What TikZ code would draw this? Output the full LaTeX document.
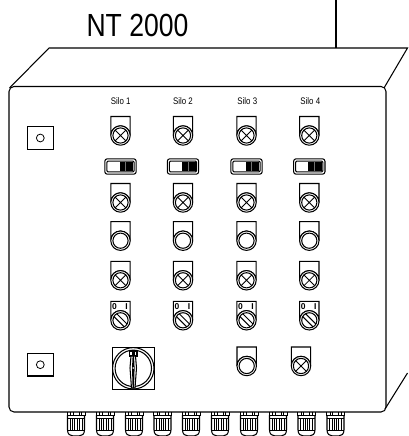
\documentclass[tikz,border=0pt]{standalone}
\usepackage{fontspec}
\setmainfont{Liberation Sans}
\newfontfamily\narrowfont[FakeStretch=0.83]{Liberation Sans}
\newcommand{\tabpath}{(-9.7,0) -- (-9.7,-19) -- (9.7,-19) -- (9.7,0) arc[start angle=0,end angle=-180,radius=9.7]}
\tikzset{
  x=1pt,y=-1pt,
  line/.style={draw=black,line width=1.05pt},
  thinline/.style={draw=black,line width=0.8pt},
  silolabel/.style={font=\narrowfont\fontsize{9.5}{10}\selectfont,inner sep=0pt,text=black},
  marklabel/.style={font=\fontsize{8.5}{8.5}\selectfont\bfseries,inner sep=0pt},
  lampcross/.pic={
    \draw[line] \tabpath;
    \draw[line,fill=white] (0,0) circle[radius=9.7];
    \draw[line] (0,0) circle[radius=7.6];
    \draw[thinline] (-5.4,-5.4) -- (5.4,5.4) (-5.4,5.4) -- (5.4,-5.4);
  },
  lampplain/.pic={
    \draw[line] \tabpath;
    \draw[line,fill=white] (0,0) circle[radius=9.7];
    \draw[line] (0,0) circle[radius=7.6];
  },
  knob/.pic={
    \draw[line] \tabpath;
    \draw[line,fill=white] (0,0) circle[radius=9.7];
    \draw[line] (0,0) circle[radius=7.6];
    \draw[line] (-6.6,-3.8) -- (3.8,6.6) (-3.8,-6.6) -- (6.6,3.8);
    \node[marklabel] (m0) at (-6,-13.5) {0};
    \node[marklabel] (m1) at (6,-13.5) {I};
  },
  toggle/.pic={
    \draw[line,rounded corners=2.5pt] (-15.7,-7.7) rectangle (15.7,7.7);
    \draw[line,rounded corners=1pt] (-13.6,-5.3) -- (13.6,-5.3) -- (13.6,5.3) -- (-13.6,5.3) -- cycle;
    \fill[black] (-1,-4.5) rectangle (12.5,4.5);
    \fill[black!55] (4.7,-4.5) rectangle (5.5,4.5);
  },
  gland/.pic={
    \draw[thinline] (-9,0) -- (-9,3) -- (9,3) -- (9,0);
    \draw[thinline] (-5.5,0) -- (-5.5,3) (5.5,0) -- (5.5,3) (-3,0) -- (-3,3) (3,0) -- (3,3);
    \draw[line] (-8.5,3) -- (-8.5,18) .. controls (-8.5,22) and (-6,24) .. (-3,24) -- (3,24) .. controls (6,24) and (8.5,22) .. (8.5,18) -- (8.5,3);
    \draw[thinline] (-8.5,6) -- (8.5,6) (-8.5,18) -- (8.5,18);
    \draw[thinline] (-6,6) -- (-6,18) (6,6) -- (6,18) (-3.2,6) -- (-3.2,18) (3.2,6) -- (3.2,18) (-1.2,6) -- (-1.2,18) (1.2,6) -- (1.2,18);
  },
  panelbox/.pic={
    \draw[line] (-13,-11.3) rectangle (13,11.3);
    \draw[thinline] (0,0) circle[radius=3.9];
  }
}
\begin{document}
\begin{tikzpicture}
\useasboundingbox (0,0) rectangle (409,436);
% cable
\coordinate (cabletop) at (336,0);
\coordinate (cablefoot) at (336,48);
\draw[line width=1.8pt] (cabletop) -- (cablefoot);
\node[font=\narrowfont\fontsize{32}{32}\selectfont,inner sep=0pt,text=black] (title) at (137.5,25.5) {NT 2000};
% enclosure
\draw[line] (9.5,88) -- (49,48) -- (407.5,48) -- (384,88);
\draw[line] (407.5,373) -- (385,409);
\draw[line,rounded corners=5pt] (9,86.5) rectangle (386,412);
% labels
\node[silolabel] (s1) at (120.7,101.5) {Silo 1};
\node[silolabel] (s2) at (183,101.5) {Silo 2};
\node[silolabel] (s3) at (247.3,101.5) {Silo 3};
\node[silolabel] (s4) at (310.3,101.5) {Silo 4};
% columns
\foreach \cx in {120.5,183,246.5,309.3}{
  \pic at (\cx,135.5) {lampcross};
  \pic at (\cx,166.5) {toggle};
  \pic at (\cx,202.5) {lampcross};
  \pic at (\cx,240.7) {lampplain};
  \pic at (\cx,280.3) {lampcross};
  \pic at (\cx,320.3) {knob};
}
\pic at (246.7,366) {lampplain};
\pic at (301,366) {lampcross};
% left boxes
\pic at (40.3,138) {panelbox};
\pic at (40.3,364.7) {panelbox};
% main switch
\draw[line] (112.3,347.3) rectangle (154.3,389.3);
\draw[line] (133.3,368.3) circle[radius=20.7];
\draw[line] (133.3,368.3) circle[radius=18.2];
\draw[line,fill=white] (129.5,351) rectangle (137,356);
\fill[black] (131.5,352) rectangle (135,355);
\draw[line,fill=white] (131,356) -- (130,368) -- (131.5,388) -- (135,388) -- (136.5,368) -- (135.5,356) -- cycle;
\fill[black] (132.6,356) -- (132,368) -- (132.6,388) -- (134,388) -- (134.6,368) -- (134,356) -- cycle;
\fill[white] (133.3,368) circle[radius=0.9];
% glands
\foreach \gx in {76,105,134,162.5,191,220,249,278,306.5,335.5}{
  \pic at (\gx,412) {gland};
}
\end{tikzpicture}
\end{document}
